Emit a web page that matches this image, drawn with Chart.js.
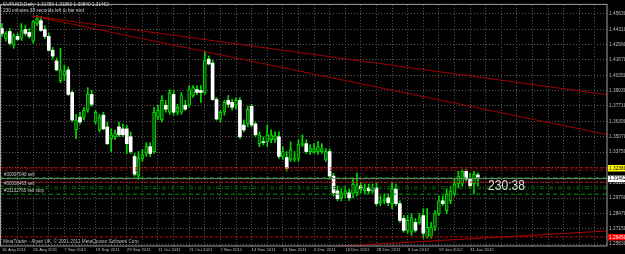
<!DOCTYPE html>
<html>
<head>
<meta charset="utf-8">
<script src="https://cdn.jsdelivr.net/npm/chart.js@4.4.1/dist/chart.umd.min.js"></script>
<style>
  html, body { margin: 0; padding: 0; background: #000; }
</style>
</head>
<body>
<canvas id="chart" width="625" height="254"></canvas>
<script>
// EURUSD daily, one entry per bar (index 0 = 16 Aug 2011)
const dateLabels = ['16 Aug 2011', '26 Aug 2011', '7 Sep 2011', '19 Sep 2011', '29 Sep 2011', '11 Oct 2011',
  '21 Oct 2011', '2 Nov 2011', '14 Nov 2011', '24 Nov 2011', '6 Dec 2011', '16 Dec 2011',
  '28 Dec 2011', '9 Jan 2012', '19 Jan 2012', '31 Jan 2012']

const priceTicks = [1.2583, 1.2715, 1.2847, 1.2979, 1.3111, 1.3243, 1.3375, 1.3507,
  1.3639, 1.3771, 1.3903, 1.4035, 1.4167, 1.4299, 1.4431, 1.4563]

const openPrices = [
  1.4437, 1.4352, 1.4411, 1.4293, 1.4369, 1.4352, 1.4428, 1.4403, 1.4327, 1.4479,
  1.4504, 1.4428, 1.4369, 1.4250, 1.4157, 1.3988, 1.4039, 1.4081, 1.3887, 1.3565,
  1.3675, 1.3675, 1.3734, 1.3870, 1.3633, 1.3565, 1.3692, 1.3591, 1.3489, 1.3506,
  1.3591, 1.3574, 1.3574, 1.3506, 1.3337, 1.3168, 1.3320, 1.3362, 1.3421, 1.3379,
  1.3675, 1.3650, 1.3777, 1.3717, 1.3870, 1.3717, 1.3717, 1.3777, 1.3777, 1.3861,
  1.3912, 1.3904, 1.3887, 1.4174, 1.4140, 1.3827, 1.3658, 1.3717, 1.3819, 1.3802,
  1.3777, 1.3819, 1.3607, 1.3616, 1.3768, 1.3616, 1.3447, 1.3464, 1.3464, 1.3481,
  1.3481, 1.3506, 1.3337, 1.3328, 1.3311, 1.3311, 1.3320, 1.3438, 1.3447, 1.3379,
  1.3379, 1.3379, 1.3379, 1.3311, 1.3379, 1.3168, 1.3041, 1.2981, 1.3015, 1.3024,
  1.3015, 1.3024, 1.3083, 1.3041, 1.3066, 1.3041, 1.3066, 1.2939, 1.2956, 1.2981,
  1.2931, 1.3058, 1.2931, 1.2804, 1.2702, 1.2685, 1.2770, 1.2770, 1.2829, 1.2643,
  1.2651, 1.2728, 1.2846, 1.2956, 1.2871, 1.2956, 1.3015, 1.3100, 1.3108, 1.3210,
  1.3142, 1.3100, 1.3178]

const highPrices = [
  1.4479, 1.4411, 1.4437, 1.4394, 1.4394, 1.4479, 1.4462, 1.4437, 1.4504, 1.4547,
  1.4538, 1.4462, 1.4394, 1.4276, 1.4183, 1.4267, 1.4123, 1.4107, 1.3904, 1.3700,
  1.3717, 1.3760, 1.3929, 1.3904, 1.3734, 1.3700, 1.3717, 1.3633, 1.3574, 1.3565,
  1.3633, 1.3616, 1.3607, 1.3548, 1.3362, 1.3379, 1.3396, 1.3455, 1.3455, 1.3760,
  1.3777, 1.3861, 1.3819, 1.3912, 1.3904, 1.3785, 1.3887, 1.3819, 1.3946, 1.3946,
  1.3946, 1.3946, 1.4242, 1.4200, 1.4166, 1.3844, 1.3734, 1.3819, 1.3861, 1.3827,
  1.3844, 1.3844, 1.3650, 1.3768, 1.3785, 1.3633, 1.3548, 1.3506, 1.3607, 1.3565,
  1.3548, 1.3548, 1.3421, 1.3379, 1.3464, 1.3379, 1.3481, 1.3523, 1.3481, 1.3438,
  1.3447, 1.3464, 1.3447, 1.3404, 1.3404, 1.3193, 1.3083, 1.3058, 1.3083, 1.3058,
  1.3142, 1.3193, 1.3108, 1.3100, 1.3100, 1.3100, 1.3108, 1.2998, 1.3015, 1.3015,
  1.3108, 1.3100, 1.2956, 1.2829, 1.2829, 1.2846, 1.2804, 1.2846, 1.2888, 1.2888,
  1.2770, 1.2871, 1.2998, 1.2998, 1.3058, 1.3083, 1.3142, 1.3210, 1.3227, 1.3227,
  1.3193, 1.3210, 1.3196]

const lowPrices = [
  1.4369, 1.4327, 1.4293, 1.4267, 1.4335, 1.4335, 1.4377, 1.4352, 1.4310, 1.4462,
  1.4411, 1.4352, 1.4242, 1.4174, 1.4073, 1.3971, 1.3988, 1.3861, 1.3633, 1.3489,
  1.3616, 1.3650, 1.3717, 1.3768, 1.3616, 1.3548, 1.3565, 1.3438, 1.3379, 1.3481,
  1.3506, 1.3506, 1.3362, 1.3362, 1.3168, 1.3142, 1.3294, 1.3337, 1.3337, 1.3362,
  1.3650, 1.3633, 1.3717, 1.3700, 1.3692, 1.3692, 1.3700, 1.3734, 1.3760, 1.3844,
  1.3870, 1.3802, 1.3870, 1.4123, 1.3819, 1.3650, 1.3633, 1.3692, 1.3760, 1.3734,
  1.3743, 1.3489, 1.3548, 1.3591, 1.3591, 1.3506, 1.3421, 1.3438, 1.3421, 1.3455,
  1.3455, 1.3320, 1.3311, 1.3210, 1.3294, 1.3294, 1.3294, 1.3421, 1.3362, 1.3354,
  1.3362, 1.3354, 1.3362, 1.3294, 1.3142, 1.2998, 1.2956, 1.2956, 1.2981, 1.2956,
  1.2981, 1.2998, 1.3024, 1.3015, 1.3015, 1.3024, 1.2914, 1.2914, 1.2931, 1.2914,
  1.2888, 1.2914, 1.2770, 1.2685, 1.2677, 1.2660, 1.2685, 1.2753, 1.2634, 1.2634,
  1.2634, 1.2702, 1.2829, 1.2914, 1.2846, 1.2931, 1.2998, 1.3066, 1.3083, 1.3125,
  1.3066, 1.3015, 1.3084]

const closePrices = [
  1.4394, 1.4394, 1.4310, 1.4377, 1.4343, 1.4420, 1.4394, 1.4369, 1.4496, 1.4521,
  1.4420, 1.4369, 1.4250, 1.4200, 1.4081, 1.4081, 1.4073, 1.3870, 1.3650, 1.3650,
  1.3633, 1.3734, 1.3870, 1.3785, 1.3717, 1.3675, 1.3574, 1.3447, 1.3523, 1.3540,
  1.3523, 1.3523, 1.3447, 1.3379, 1.3184, 1.3320, 1.3354, 1.3421, 1.3362, 1.3717,
  1.3734, 1.3819, 1.3743, 1.3887, 1.3717, 1.3760, 1.3861, 1.3743, 1.3912, 1.3929,
  1.3887, 1.3887, 1.4166, 1.4132, 1.3827, 1.3658, 1.3717, 1.3802, 1.3785, 1.3760,
  1.3819, 1.3506, 1.3565, 1.3743, 1.3607, 1.3523, 1.3523, 1.3455, 1.3523, 1.3523,
  1.3515, 1.3337, 1.3379, 1.3235, 1.3396, 1.3320, 1.3438, 1.3447, 1.3379, 1.3404,
  1.3404, 1.3421, 1.3404, 1.3379, 1.3168, 1.3024, 1.2973, 1.3024, 1.3041, 1.2981,
  1.3100, 1.3083, 1.3058, 1.3058, 1.3041, 1.3066, 1.2931, 1.2956, 1.2973, 1.2939,
  1.3058, 1.2931, 1.2787, 1.2702, 1.2787, 1.2812, 1.2702, 1.2812, 1.2677, 1.2728,
  1.2728, 1.2846, 1.2956, 1.2931, 1.3015, 1.3041, 1.3100, 1.3168, 1.3210, 1.3142,
  1.3083, 1.3184, 1.31462]

// trend lines: [bar index, price] pairs
const trendUpper = [[7.6, 1.4546], [155.1, 1.3868]]
const trendLower = [[7.6, 1.4546], [155.1, 1.3525]]
const trendSupport = [[80, 1.2553], [155.1, 1.2696]]

// horizontal order / alert levels
const redLevels = [1.3238, 1.3117, 1.2645]
const darkRedLevels = [1.3218]
const greenLevels = [1.3153, 1.3013]
const greenDotLevels = [1.3076, 1.3059]
const bidPrice = 1.31462

const orderTags = ['#30097040 sell', '#30008463 sell', '#31132765 sell stop']
const orderTagLevels = [1.3153, 1.3076, 1.3013]

const headerLine1 = 'EURUSD,Daily  1.31780 1.31960 1.30840 1.31462'
const headerLine2 = '230 minutes 38 seconds left to bar end'
const countdown = '230:38'
const copyright = 'MetaTrader - Alpari UK, \u00a9 2001-2011 MetaQuotes Software Corp.'

const xMin = -0.5
const xMax = 155.1
const gridStep = 4

const font = '"Liberation Sans", Arial, sans-serif'
const candleGreen = '#00dc00'
const isBear = i => closePrices[i] < openPrices[i]

function levelSet(levels, color, dash) {
  return levels.map(v => ({
    type: 'line',
    data: [{x: xMin, y: v}, {x: xMax, y: v}],
    borderColor: color,
    borderWidth: 1,
    borderDash: dash,
    pointRadius: 0,
    order: 0
  }))
}

function trend(points, color) {
  return {
    type: 'line',
    data: points.map(p => ({x: p[0], y: p[1]})),
    borderColor: color,
    borderWidth: 1,
    pointRadius: 0,
    order: 0
  }
}

const gridTicks = []
for (let v = 0; v <= xMax; v += gridStep) gridTicks.push(v)

const overlay = {
  id: 'overlay',
  beforeDraw(c) {
    const ctx = c.ctx
    ctx.save()
    ctx.fillStyle = '#000'
    ctx.fillRect(0, 0, c.width, c.height)
    ctx.restore()
  },
  afterDraw(c) {
    const ctx = c.ctx
    const a = c.chartArea
    const y = c.scales.y
    ctx.save()
    ctx.strokeStyle = '#a0a0a0'
    ctx.lineWidth = 1
    ctx.strokeRect(a.left + 0.5, a.top - 0.5, a.right - a.left - 0.5, a.bottom - a.top + 0.5)

    ctx.textBaseline = 'middle'
    ctx.textAlign = 'left'
    ctx.fillStyle = '#d0d0d0'
    ctx.font = '4.7px ' + font
    ctx.fillText(headerLine1, 3, 5)
    ctx.fillText(headerLine2, 3, 10.5)
    ctx.fillStyle = '#bdbdbd'
    ctx.fillText(copyright, 3, 241.5)

    ctx.fillStyle = '#c8c8c8'
    ctx.font = '4.5px ' + font
    orderTags.forEach((t, i) => {
      ctx.fillText(t, 4, y.getPixelForValue(orderTagLevels[i]) - 3.3)
    })

    ctx.fillStyle = '#dcdcdc'
    ctx.font = '15px "Liberation Sans Narrow", "Liberation Sans", Arial, sans-serif'
    ctx.fillText(countdown, 488, 185.5, 37)

    // price markers on the right axis
    const marks = [[redLevels[0], '#ffff00', '#000'], [bidPrice, '#ffffff', '#000'], [redLevels[2], '#ff0000', '#fff']]
    ctx.font = '4.8px ' + font
    marks.forEach(m => {
      const py = y.getPixelForValue(m[0])
      ctx.fillStyle = m[1]
      ctx.fillRect(608, py - 3, 17, 6.5)
      ctx.fillStyle = m[2]
      ctx.fillText(m[0].toFixed(5), 609, py + 0.3)
    })
    ctx.restore()
  }
}

new Chart(document.getElementById('chart'), {
  type: 'bar',
  data: {
    datasets: [
      ...levelSet(redLevels, '#c80000', [3, 2]),
      ...levelSet(darkRedLevels, '#8a0000', [3, 2]),
      ...levelSet(greenLevels, '#009a00', [4, 3]),
      ...levelSet(greenDotLevels, '#007000', [4, 2, 1, 2]),
      ...levelSet([bidPrice], '#8c8c8c', []),
      trend(trendUpper, '#a00000'),
      trend(trendLower, '#a00000'),
      trend(trendSupport, '#b00000'),
      {
        type: 'bar',
        data: openPrices.map((o, i) => ({x: i, y: [o, closePrices[i]]})),
        barThickness: 3,
        minBarLength: 1,
        grouped: false,
        backgroundColor: ctx => isBear(ctx.dataIndex) ? '#ffffff' : '#0a4a0a',
        borderColor: candleGreen,
        borderWidth: ctx => isBear(ctx.dataIndex) ? 0 : 1,
        borderSkipped: false,
        order: 1
      },
      {
        type: 'bar',
        data: lowPrices.map((l, i) => ({x: i, y: [l, highPrices[i]]})),
        barThickness: 1,
        grouped: false,
        backgroundColor: candleGreen,
        order: 2
      }
    ]
  },
  options: {
    responsive: false,
    animation: false,
    devicePixelRatio: 1,
    layout: {padding: {top: 1}},
    plugins: {legend: {display: false}, tooltip: {enabled: false}},
    scales: {
      x: {
        type: 'linear',
        min: xMin,
        max: xMax,
        offset: false,
        afterBuildTicks: s => { s.ticks = gridTicks.map(v => ({value: v})) },
        afterFit: s => { s.height = 8 },
        ticks: {
          autoSkip: false,
          maxRotation: 0,
          align: 'start',
          padding: 1,
          color: '#bdbdbd',
          font: {size: 4.3, family: font},
          callback: v => (v % 8 === 0 && dateLabels[v / 8]) ? dateLabels[v / 8] : ''
        },
        grid: {color: '#5c5c5c', drawTicks: false, offset: false},
        border: {display: false, dash: [1, 2]}
      },
      y: {
        type: 'linear',
        position: 'right',
        min: 1.2567,
        max: 1.4640,
        beginAtZero: false,
        afterBuildTicks: s => { s.ticks = priceTicks.map(v => ({value: v})) },
        afterFit: s => { s.width = 18 },
        ticks: {
          crossAlign: 'near',
          padding: 2,
          color: '#bdbdbd',
          font: {size: 4.8, family: font},
          callback: v => v.toFixed(5)
        },
        grid: {color: '#5c5c5c', drawTicks: false},
        border: {display: false, dash: [1, 2]}
      }
    }
  },
  plugins: [overlay]
})
</script>
</body>
</html>
